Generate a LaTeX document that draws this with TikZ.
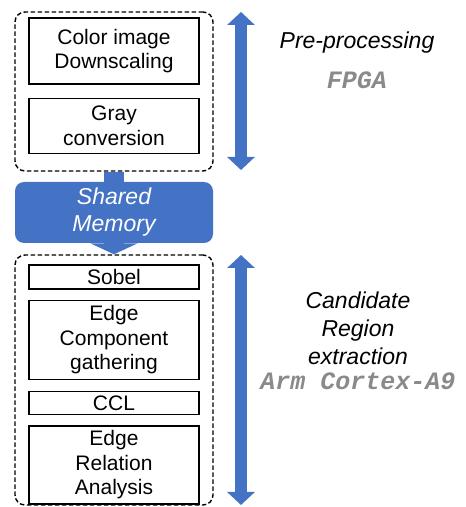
\documentclass[tikz,border=0pt]{standalone}
\usepackage{fontspec}
\setsansfont{Liberation Sans}
\setmonofont{Liberation Mono}
\usepackage{tikz}
\usetikzlibrary{positioning}
\usetikzlibrary{arrows.meta}
\definecolor{memblue}{HTML}{4472C4}
\definecolor{cpugray}{HTML}{8A8A8A}
\tikzset{>=latex}

\begin{document}
\begin{tikzpicture}[
            x=1pt, y=1pt,
            group/.style={rectangle, draw, dashed, dash pattern=on 4.5pt off 2.5pt, line width=1.4pt, rounded corners=10pt, minimum width=198pt, inner sep=0pt},
            stage/.style={rectangle, draw, line width=1.3pt, minimum width=170pt, inner sep=0pt, align=center, font=\sffamily\fontsize{21}{24.5}\selectfont},
            memory/.style={rectangle, fill=memblue, rounded corners=9pt, minimum width=198pt, minimum height=61pt, inner sep=0pt, align=center, text=white, font=\sffamily\itshape\fontsize{23}{27}\selectfont},
            task/.style={align=center, inner sep=0pt, font=\sffamily\itshape\fontsize{23}{28}\selectfont},
            device/.style={inner sep=0pt, text=cpugray, font=\ttfamily\bfseries\itshape\fontsize{25}{30}\selectfont},
            span/.style={memblue, line width=12pt, {Triangle[width=27pt,length=13pt]}-{Triangle[width=27pt,length=13pt]}}
        ]
        \useasboundingbox (0,0) rectangle (466,507);
        % FPGA part
        \node[group, minimum height=159pt] (fpga) at (114,415.5) {};
        \node[stage, minimum height=66pt] (downscale) at (114,456) {Color image\\Downscaling};
        \node[stage, minimum height=55pt, below = 13pt of downscale] (gray) {Gray\\conversion};
        % shared memory
        \node[memory] (shared) at (114,294.5) {Shared\\Memory};
        % ARM part
        \node[group, minimum height=250pt] (arm) at (114,127) {};
        \node[stage, minimum height=24pt] (sobel) at (114,230) {Sobel};
        \node[stage, minimum height=79pt, below = 10pt of sobel] (gather) {Edge\\Component\\gathering};
        \node[stage, minimum height=23pt, below = 11pt of gather] (ccl) {CCL};
        \node[stage, minimum height=78pt, below = 10pt of ccl] (relation) {Edge\\Relation\\Analysis};
        \path[draw, memblue, line width=20pt] (fpga.south) -- (shared.north);
        \path[draw, memblue, line width=20pt, -{Triangle[width=47pt,length=11pt]}] (shared.south) -- (arm.north);
        % spans on the right
        \coordinate (pretop) at (241,495);
        \coordinate (prebot) at (241,337);
        \coordinate (candtop) at (241,252);
        \coordinate (candbot) at (241,2);
        \draw[span] (pretop) -- (prebot);
        \draw[span] (candtop) -- (candbot);
        \node[task] (pre) at (357,464) {Pre-processing};
        \node[device, below = 18pt of pre] (fpgalabel) {FPGA};
        \node[task] (cand) at (358,179) {Candidate\\Region\\extraction};
        \node[device, below = 8pt of cand] (armlabel) {Arm Cortex-A9};
\end{tikzpicture}
\end{document}
